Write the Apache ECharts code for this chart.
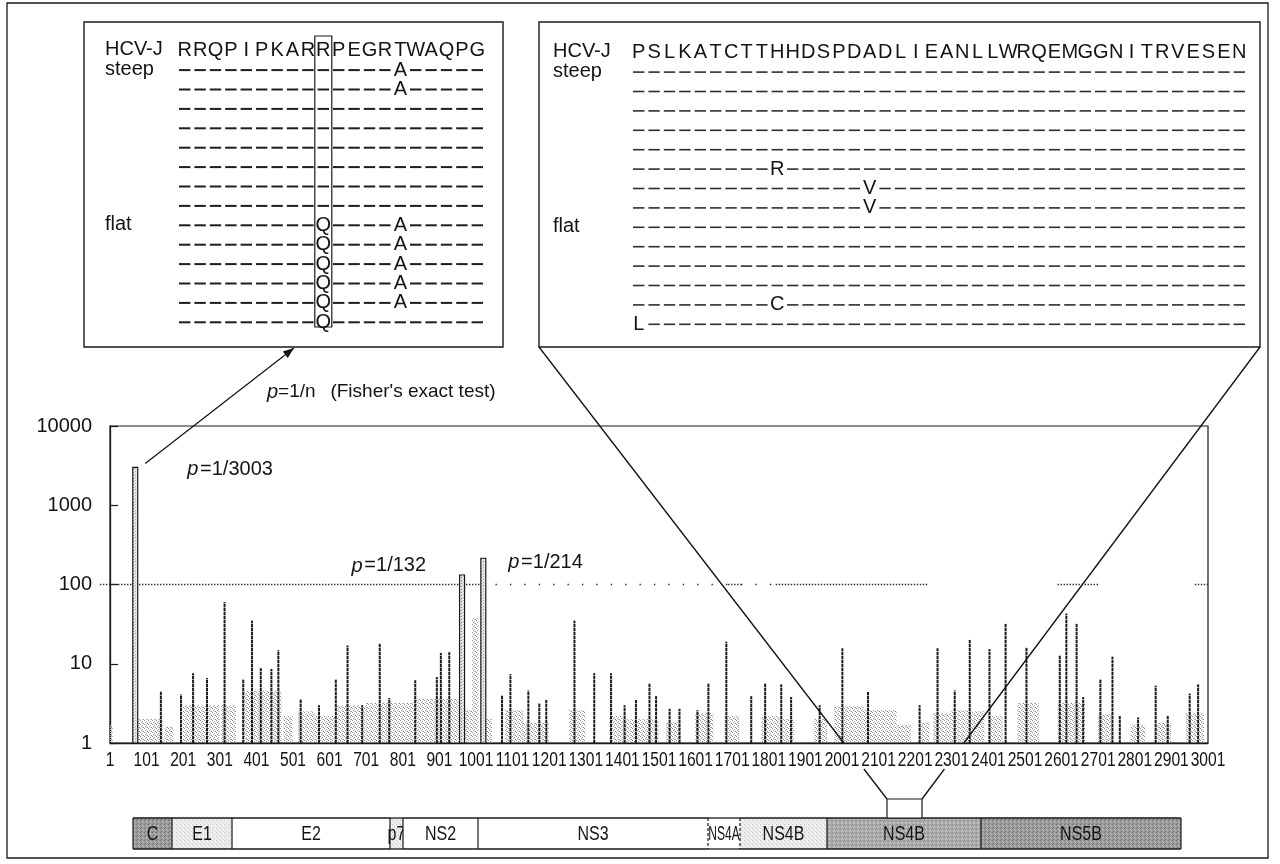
<!DOCTYPE html>
<html>
<head>
<meta charset="utf-8">
<script src="https://cdn.jsdelivr.net/npm/echarts@6/dist/echarts.min.js"></script>
<style>
  html, body { margin: 0; padding: 0; background: #fff; }
  #chart { width: 1280px; height: 864px; }
</style>
</head>
<body>
<div id="chart"></div>
<script>
// ---------------------------------------------------------------
// Residue axis (polyprotein numbering) and the 1/p scale
// ---------------------------------------------------------------
const axisStart = 1;          // first residue
const axisEnd = 3001;         // last tick label
const tickStep = 100;         // labels 1, 101, 201 ... 3001
const yTicks = [1, 10, 100, 1000, 10000];
const threshold = 100;        // p = 1/100 cut-off

// Residues with the strongest steep/flat association (value = 1/p)
const majorPos = [70, 963, 1021];
const majorVal = [3003, 132, 214];

// Other residues standing out above the background
const minorPos = [140, 195, 228, 266, 314, 365, 389, 413, 442, 461, 522, 572, 618, 650, 690,
  738, 764, 835, 894, 905, 928, 1072, 1095, 1144, 1174, 1193, 1270, 1324, 1370, 1407,
  1438, 1475, 1493, 1530, 1557, 1606, 1636, 1685, 1753, 1791, 1835, 1862, 1940, 2002, 2072,
  2213, 2262, 2309, 2350, 2404, 2448, 2505, 2596, 2614, 2642, 2660, 2707, 2740, 2760, 2810,
  2858, 2891, 2951, 2974];
const minorVal = [4.5, 4.1, 7.6, 6.6, 60, 6.4, 35, 8.8, 8.6, 14.8, 3.6, 3.0, 6.4, 17, 3.0,
  18, 3.7, 6.2, 6.8, 13.7, 14, 4.0, 7.4, 4.6, 3.2, 3.5, 35, 7.6, 7.6, 3.0,
  3.5, 5.7, 3.9, 2.7, 2.7, 2.6, 5.7, 19, 3.9, 5.7, 5.5, 3.8, 3.0, 15.7, 4.4,
  3.0, 15.7, 4.6, 20, 15.3, 32, 16, 12.8, 43, 32, 3.8, 6.4, 12.3, 2.2, 2.1,
  5.3, 2.2, 4.2, 5.5];

// Low-level background: runs of residues and their typical 1/p level
const bgStart = [1, 75, 150, 200, 305, 365, 475, 515, 560, 620, 700, 830, 966, 990, 1025,
  1080, 1130, 1255, 1365, 1400, 1520, 1600, 1680, 1780, 1840, 1925, 1980, 2060, 2150, 2215,
  2250, 2300, 2350, 2400, 2480, 2590, 2700, 2790, 2860, 2940];
const bgEnd = [8, 145, 175, 300, 345, 470, 500, 560, 620, 700, 830, 960, 1000, 1008, 1045,
  1130, 1200, 1300, 1400, 1500, 1560, 1650, 1720, 1830, 1870, 1960, 2060, 2150, 2190, 2240,
  2300, 2350, 2390, 2440, 2540, 2665, 2740, 2830, 2900, 2990];
const bgVal = [1.7, 2.0, 1.6, 3.0, 3.0, 4.5, 2.2, 2.5, 2.2, 3.0, 3.2, 3.6, 2.6, 38, 2.0,
  2.6, 1.8, 2.6, 2.2, 2.0, 1.8, 2.4, 2.2, 2.2, 2.0, 2.0, 2.9, 2.6, 1.7, 1.8,
  2.4, 2.6, 2.5, 2.2, 3.2, 3.2, 2.3, 1.7, 1.8, 2.4];

// Printed runs of the p = 1/100 dotted line
const thrDense = [[1, 1015], [1690, 1725], [1820, 2235], [2590, 2705], [2965, 3001]];
const thrSparse = [[1015, 1690], [1725, 1820]];

// Core 61-80 alignment (HCV-J reference, 8 steep + 6 flat isolates)
const coreRef = 'RRQPIPKARRPEGRTWAQPG';
const coreRows = 14;
const coreMut = [[0, 14, 'A'], [1, 14, 'A'],
  [8, 9, 'Q'], [8, 14, 'A'], [9, 9, 'Q'], [9, 14, 'A'], [10, 9, 'Q'], [10, 14, 'A'],
  [11, 9, 'Q'], [11, 14, 'A'], [12, 9, 'Q'], [12, 14, 'A'], [13, 9, 'Q']];
const coreBoxCol = 9;

// ISDR alignment
const isdrRef = 'PSLKATCTTHHDSPDADLIEANLLWRQEMGGNITRVESEN';
const isdrRows = 14;
const isdrMut = [[5, 9, 'R'], [6, 15, 'V'], [7, 15, 'V'], [12, 9, 'C'], [13, 0, 'L']];

const rowLabels = ['HCV-J', 'steep', '', '', '', '', '', '', '', 'flat', '', '', '', '', ''];

// Genome map (schematic units along the bar)
const geneNames = ['C', 'E1', 'E2', 'p7', 'NS2', 'NS3', 'NS4A', 'NS4B', 'NS4B', 'NS5B'];
const geneEdges = [0, 39, 99, 257, 270, 345, 575, 607, 694, 848, 1048];
const isdrMap = [754, 789];

// ---------------------------------------------------------------
// Styling helpers
// ---------------------------------------------------------------
const FONT = "'Liberation Sans', Arial, sans-serif";

function pattern(w, h, bg, dots) {
  const c = document.createElement('canvas');
  c.width = w; c.height = h;
  const g = c.getContext('2d');
  if (bg) { g.fillStyle = bg; g.fillRect(0, 0, w, h); }
  dots.forEach(d => { g.fillStyle = d[2]; g.fillRect(d[0], d[1], 1, 1); });
  return { image: c, repeat: 'repeat' };
}
const stipple = pattern(4, 4, null, [[0, 0, '#8c8c8c'], [2, 1, '#a0a0a0'], [1, 2, '#9a9a9a'], [3, 3, '#8c8c8c'], [2, 3, '#c8c8c8']]);
const spikeFill = pattern(4, 3, '#e6e6e6', [[1, 1, '#7a7a7a'], [3, 0, '#a8a8a8']]);
const peakFill = pattern(2, 4, '#1c1c1c', [[0, 3, '#9a9a9a'], [1, 3, '#b0b0b0']]);
const geneFill = {
  dark: pattern(4, 4, '#9b9b9b', [[0, 0, '#6e6e6e'], [2, 1, '#c2c2c2'], [1, 3, '#7a7a7a'], [3, 2, '#b8b8b8']]),
  mid: pattern(4, 4, '#ababab', [[0, 0, '#858585'], [2, 2, '#d0d0d0'], [3, 1, '#909090'], [1, 3, '#c8c8c8']]),
  light: pattern(4, 4, '#ececec', [[0, 0, '#c6c6c6'], [2, 2, '#d2d2d2'], [3, 1, '#fafafa']]),
  none: '#ffffff'
};
const geneTone = ['dark', 'light', 'none', 'light', 'none', 'none', 'none', 'light', 'mid', 'dark'];
const dashedLeftEdge = { 6: true, 7: true };

// condensed lettering: regular face squeezed horizontally
const CONDENSE = 0.78;

// ---------------------------------------------------------------
// Series data built from the arrays above
// ---------------------------------------------------------------
const toAxis = p => p - axisStart;
const bgData = bgStart.map((s, i) => [toAxis(s), toAxis(bgEnd[i]), bgVal[i]]);
const minorData = minorPos.map((p, i) => [toAxis(p), minorVal[i]]);
const majorData = majorPos.map((p, i) => [toAxis(p), majorVal[i]]);
const thrData = thrDense.map(r => [toAxis(r[0]), toAxis(r[1]), 0])
  .concat(thrSparse.map(r => [toAxis(r[0]), toAxis(r[1]), 1]));
const xTickData = [];
for (let v = 0; v <= toAxis(axisEnd); v += tickStep) xTickData.push([v]);

function alignmentCells(ref, nRows, muts) {
  const cells = [];
  for (let c = 0; c < ref.length; c++) cells.push([c, 0, ref[c]]);
  for (let r = 0; r < nRows; r++) {
    for (let c = 0; c < ref.length; c++) {
      const m = muts.find(x => x[0] === r && x[1] === c);
      cells.push([c, r + 1, m ? m[2] : '-']);
    }
  }
  return cells;
}
const coreCells = alignmentCells(coreRef, coreRows, coreMut);
const isdrCells = alignmentCells(isdrRef, isdrRows, isdrMut);

const geneData = geneNames.map((n, i) => [geneEdges[i], geneEdges[i + 1], i]);

// label placement beside each major spike
const majorLabelOffset = [[52, 2, 'left'], [-36, -9, 'right'], [25, 4, 'left']];

function alignRender(cells, dashWidth, dashColor) {
  return function (params, api) {
    const cell = cells[params.dataIndex];
    const pt = api.coord([cell[0], cell[1]]);
    const bw = api.size([1, 1])[0];
    if (cell[2] === '-') {
      return {
        type: 'line',
        shape: { x1: pt[0] - bw * 0.37, y1: pt[1] + 1, x2: pt[0] + bw * 0.37, y2: pt[1] + 1 },
        style: { stroke: dashColor, lineWidth: dashWidth }
      };
    }
    return {
      type: 'text',
      style: {
        text: cell[2], x: pt[0], y: pt[1] + 1, align: 'center', verticalAlign: 'middle',
        fontSize: 20, fontFamily: FONT, fill: '#141414'
      }
    };
  };
}

const rowCats = rowLabels.map((_, i) => String(i));
const rowAxis = (gridIndex, margin) => ({
  type: 'category', gridIndex: gridIndex, data: rowCats, inverse: true,
  axisLine: { show: false }, axisTick: { show: false }, splitLine: { show: false },
  axisLabel: {
    show: true, align: 'left', margin: margin, fontSize: 20, fontFamily: FONT, color: '#141414',
    formatter: (v) => rowLabels[+v], interval: 0
  }
});
const colAxis = (gridIndex, n) => ({
  type: 'category', gridIndex: gridIndex, data: Array.from({ length: n }, (_, i) => String(i)),
  show: false
});

const chart = echarts.init(document.getElementById('chart'));

const option = {
  animation: false,
  backgroundColor: '#ffffff',
  grid: [
    { left: 110, right: 72, top: 426, bottom: 121, show: true, borderColor: '#1a1a1a', borderWidth: 1.2 },
    { left: 177, top: 40, width: 308, height: 291 },
    { left: 631, top: 42, width: 616, height: 291 },
    { left: 133, top: 818, width: 1048, height: 31 }
  ],
  xAxis: [
    {
      type: 'value', gridIndex: 0, min: 0, max: toAxis(axisEnd), interval: tickStep,
      axisLine: { show: true, lineStyle: { color: '#1a1a1a', width: 1.3 } },
      axisTick: { show: false }, splitLine: { show: false },
      axisLabel: { show: false }
    },
    colAxis(1, coreRef.length),
    colAxis(2, isdrRef.length),
    { type: 'value', gridIndex: 3, min: geneEdges[0], max: geneEdges[geneEdges.length - 1], show: false }
  ],
  yAxis: [
    {
      type: 'log', gridIndex: 0, logBase: 10, min: yTicks[0], max: yTicks[yTicks.length - 1],
      axisLine: { show: true, lineStyle: { color: '#1a1a1a', width: 1.3 } },
      axisTick: { show: true, inside: true, length: 8, lineStyle: { color: '#1a1a1a', width: 1.2 } },
      splitLine: { show: false },
      axisLabel: { fontSize: 20, fontFamily: FONT, color: '#141414', margin: 18, formatter: (v) => String(Math.round(v)) }
    },
    rowAxis(1, 72),
    rowAxis(2, 78),
    { type: 'value', gridIndex: 3, min: 0, max: 1, show: false }
  ],
  series: [
    // background speckle
    {
      type: 'custom', xAxisIndex: 0, yAxisIndex: 0, data: bgData, z: 2,
      encode: { x: [0, 1], y: 2 },
      renderItem: function (params, api) {
        const a = api.coord([api.value(0), yTicks[0]]);
        const b = api.coord([api.value(1), api.value(2)]);
        return {
          type: 'rect',
          shape: { x: a[0], y: b[1], width: Math.max(1, b[0] - a[0]), height: a[1] - b[1] },
          style: { fill: stipple }
        };
      }
    },
    // p = 1/100 line
    {
      type: 'custom', xAxisIndex: 0, yAxisIndex: 0, data: thrData, z: 3,
      encode: { x: [0, 1] },
      renderItem: function (params, api) {
        const a = api.coord([api.value(0), threshold]);
        const b = api.coord([api.value(1), threshold]);
        const sparse = api.value(2) === 1;
        return {
          type: 'line',
          shape: { x1: a[0] - (params.dataIndex === 0 ? 10 : 0), y1: a[1], x2: b[0], y2: b[1] },
          style: { stroke: '#2a2a2a', lineWidth: 1.4, lineDash: sparse ? [1.4, 13] : [1.4, 1.6] }
        };
      }
    },
    // individual residues above background
    {
      type: 'custom', xAxisIndex: 0, yAxisIndex: 0, data: minorData, z: 4,
      encode: { x: 0, y: 1 },
      renderItem: function (params, api) {
        const a = api.coord([api.value(0), yTicks[0]]);
        const b = api.coord([api.value(0), api.value(1)]);
        return {
          type: 'rect',
          shape: { x: a[0] - 1, y: b[1], width: 2, height: a[1] - b[1] },
          style: { fill: peakFill }
        };
      }
    },
    // significant residues with their p values
    {
      type: 'custom', xAxisIndex: 0, yAxisIndex: 0, data: majorData, z: 5,
      encode: { x: 0, y: 1 },
      renderItem: function (params, api) {
        const v = api.value(1);
        const a = api.coord([api.value(0), yTicks[0]]);
        const b = api.coord([api.value(0), v]);
        const off = majorLabelOffset[params.dataIndex];
        return {
          type: 'group',
          children: [
            {
              type: 'rect',
              shape: { x: a[0] - 2.5, y: b[1], width: 5, height: a[1] - b[1] },
              style: { fill: spikeFill, stroke: '#111', lineWidth: 1.1 }
            },
            {
              type: 'text',
              style: {
                x: b[0] + off[0], y: b[1] + off[1], align: off[2], verticalAlign: 'middle',
                text: '{i|p}{t|\u200a=1/' + v + '}',
                rich: {
                  i: { fontStyle: 'italic', fontSize: 20, fontFamily: FONT, fill: '#141414' },
                  t: { fontSize: 20, fontFamily: FONT, fill: '#141414' }
                }
              }
            }
          ]
        };
      }
    },
    // residue numbers under the axis, placed by the axis scale
    {
      type: 'custom', xAxisIndex: 0, yAxisIndex: 0, data: xTickData, z: 6,
      encode: { x: 0 },
      renderItem: function (params, api) {
        const pt = api.coord([api.value(0), yTicks[0]]);
        return {
          type: 'text', x: pt[0], y: pt[1] + 7, scaleX: CONDENSE, scaleY: 1,
          style: {
            text: String(api.value(0) + axisStart), x: 0, y: 0, align: 'center', verticalAlign: 'top',
            fontSize: 20, fontFamily: FONT, fill: '#141414'
          }
        };
      }
    },
    // core alignment
    {
      type: 'custom', xAxisIndex: 1, yAxisIndex: 1, data: coreCells.map(c => [c[0], c[1]]),
      encode: { x: 0, y: 1 },
      renderItem: alignRender(coreCells, 2, '#1e1e1e')
    },
    // boxed residue 70 column
    {
      type: 'custom', xAxisIndex: 1, yAxisIndex: 1, data: [[coreBoxCol, 0]],
      encode: { x: 0, y: 1 },
      renderItem: function (params, api) {
        const top = api.coord([coreBoxCol, 0]);
        const bot = api.coord([coreBoxCol, coreRows]);
        const bh = api.size([1, 1])[1];
        return {
          type: 'rect',
          shape: { x: top[0] - 8.5, y: top[1] - bh / 2 - 4, width: 17, height: bot[1] - top[1] + bh },
          style: { fill: 'none', stroke: '#1a1a1a', lineWidth: 1.2 }
        };
      }
    },
    // ISDR alignment
    {
      type: 'custom', xAxisIndex: 2, yAxisIndex: 2, data: isdrCells.map(c => [c[0], c[1]]),
      encode: { x: 0, y: 1 },
      renderItem: alignRender(isdrCells, 1.6, '#2e2e2e')
    },
    // genome map
    {
      type: 'custom', xAxisIndex: 3, yAxisIndex: 3, data: geneData,
      encode: { x: [0, 1] },
      renderItem: function (params, api) {
        const i = api.value(2);
        const a = api.coord([api.value(0), 1]);
        const b = api.coord([api.value(1), 0]);
        const w = b[0] - a[0], h = b[1] - a[1];
        const kids = [
          { type: 'rect', shape: { x: a[0], y: a[1], width: w, height: h }, style: { fill: geneFill[geneTone[i]] } },
          { type: 'line', shape: { x1: a[0], y1: a[1], x2: b[0], y2: a[1] }, style: { stroke: '#1a1a1a', lineWidth: 1.3 } },
          { type: 'line', shape: { x1: a[0], y1: b[1], x2: b[0], y2: b[1] }, style: { stroke: '#1a1a1a', lineWidth: 1.3 } },
          {
            type: 'line', shape: { x1: a[0], y1: a[1], x2: a[0], y2: b[1] },
            style: { stroke: '#1a1a1a', lineWidth: 1.2, lineDash: dashedLeftEdge[i] ? [3, 2] : null }
          },
          {
            type: 'text', x: a[0] + w / 2, y: a[1] + h / 2 + 1,
            scaleX: i === 6 ? 0.6 : 0.8, scaleY: 1,
            style: {
              text: geneNames[i], x: 0, y: 0, align: 'center', verticalAlign: 'middle',
              fontSize: 20, fontFamily: FONT, fill: '#141414'
            }
          }
        ];
        if (params.dataIndex === geneData.length - 1) {
          kids.push({ type: 'line', shape: { x1: b[0], y1: a[1], x2: b[0], y2: b[1] }, style: { stroke: '#1a1a1a', lineWidth: 1.2 } });
        }
        return { type: 'group', children: kids };
      }
    },
    // ISDR window on the map
    {
      type: 'custom', xAxisIndex: 3, yAxisIndex: 3, data: [[isdrMap[0], isdrMap[1]]],
      encode: { x: [0, 1] },
      renderItem: function (params, api) {
        const a = api.coord([api.value(0), 1]);
        const b = api.coord([api.value(1), 1]);
        return {
          type: 'rect', shape: { x: a[0], y: a[1] - 19, width: b[0] - a[0], height: 19 },
          style: { fill: '#fff', stroke: '#1a1a1a', lineWidth: 1.2 }
        };
      }
    }
  ]
};

chart.setOption(option);

// ---------------------------------------------------------------
// Frames, arrow and connector lines placed from the axes' pixels
// ---------------------------------------------------------------
const coreBox = { x: 84, y: 22, w: 419, h: 325 };
const isdrBox = { x: 539, y: 22, w: 721, h: 325 };

const spikeTop = chart.convertToPixel({ xAxisIndex: 0, yAxisIndex: 0 }, [toAxis(majorPos[0]), majorVal[0]]);
const arrowFrom = [spikeTop[0] + 10, spikeTop[1] - 4];
const arrowTo = [294, coreBox.y + coreBox.h + 1];
const ang = Math.atan2(arrowTo[1] - arrowFrom[1], arrowTo[0] - arrowFrom[0]);
const ah = 11, aw = 4;
const arrowHead = [
  arrowTo,
  [arrowTo[0] - ah * Math.cos(ang) + aw * Math.sin(ang), arrowTo[1] - ah * Math.sin(ang) - aw * Math.cos(ang)],
  [arrowTo[0] - ah * Math.cos(ang) - aw * Math.sin(ang), arrowTo[1] - ah * Math.sin(ang) + aw * Math.cos(ang)]
];

const axisY = chart.convertToPixel({ yAxisIndex: 0 }, yTicks[0]);
const mapL = chart.convertToPixel({ xAxisIndex: 3, yAxisIndex: 3 }, [isdrMap[0], 1]);
const mapR = chart.convertToPixel({ xAxisIndex: 3, yAxisIndex: 3 }, [isdrMap[1], 1]);
const mapTop = mapL[1] - 19;
const labelBottom = axisY + 26;

function splitLine(p0, p1) {
  const at = y => p0[0] + (p1[0] - p0[0]) * (y - p0[1]) / (p1[1] - p0[1]);
  return [
    { type: 'line', shape: { x1: p0[0], y1: p0[1], x2: at(axisY), y2: axisY } },
    { type: 'line', shape: { x1: at(labelBottom), y1: labelBottom, x2: p1[0], y2: p1[1] } }
  ];
}
const connectors = splitLine([isdrBox.x, isdrBox.y + isdrBox.h], [mapL[0], mapTop])
  .concat(splitLine([isdrBox.x + isdrBox.w, isdrBox.y + isdrBox.h], [mapR[0], mapTop]))
  .map(el => Object.assign(el, { style: { stroke: '#111', lineWidth: 1.3 }, z: 20 }));

chart.setOption({
  graphic: [
    { type: 'rect', shape: { x: 7, y: 3, width: 1261, height: 855 }, style: { fill: 'none', stroke: '#1a1a1a', lineWidth: 1.3 } },
    { type: 'rect', shape: { x: coreBox.x, y: coreBox.y, width: coreBox.w, height: coreBox.h }, style: { fill: 'none', stroke: '#1a1a1a', lineWidth: 1.4 } },
    { type: 'rect', shape: { x: isdrBox.x, y: isdrBox.y, width: isdrBox.w, height: isdrBox.h }, style: { fill: 'none', stroke: '#1a1a1a', lineWidth: 1.4 } },
    { type: 'line', shape: { x1: arrowFrom[0], y1: arrowFrom[1], x2: arrowTo[0], y2: arrowTo[1] }, style: { stroke: '#111', lineWidth: 1.2 }, z: 20 },
    { type: 'polygon', shape: { points: arrowHead }, style: { fill: '#111' }, z: 20 },
    {
      type: 'text', x: 267, y: 392, z: 20,
      style: {
        text: '{i|p}{t|=1/n\u2002 (Fisher\'s exact test)}', verticalAlign: 'middle',
        rich: {
          i: { fontStyle: 'italic', fontSize: 20, fontFamily: FONT, fill: '#141414' },
          t: { fontSize: 19, fontFamily: FONT, fill: '#141414' }
        }
      }
    }
  ].concat(connectors)
});
</script>
</body>
</html>
